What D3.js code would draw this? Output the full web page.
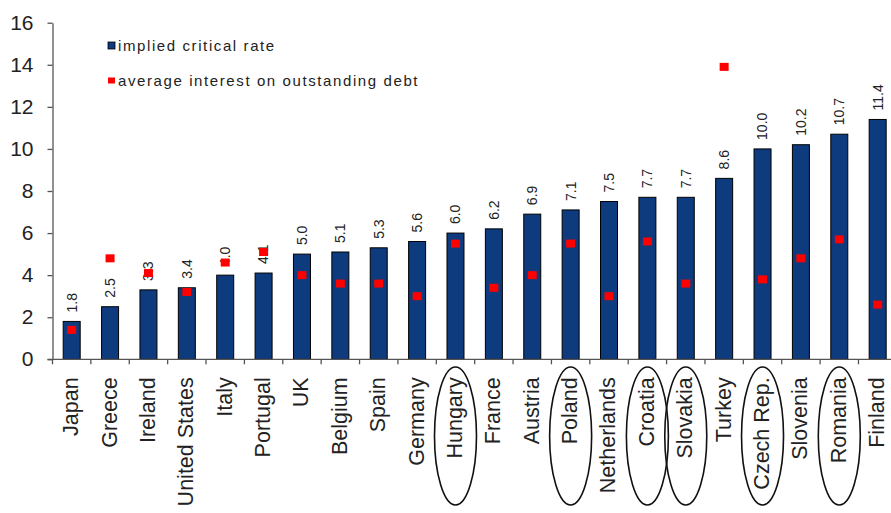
<!DOCTYPE html>
<html>
<head>
<meta charset="utf-8">
<script src="https://cdn.jsdelivr.net/npm/d3@7"></script>
<style>
  html, body { margin: 0; padding: 0; background: #fff; }
  svg { display: block; font-family: "Liberation Sans", Arial, Helvetica, sans-serif; }
</style>
</head>
<body>
<svg id="chart" width="891" height="513"></svg>
<script>
// Countries, ordered by implied critical rate
const categories = ["Japan", "Greece", "Ireland", "United States", "Italy", "Portugal", "UK",
  "Belgium", "Spain", "Germany", "Hungary", "France", "Austria", "Poland", "Netherlands",
  "Croatia", "Slovakia", "Turkey", "Czech Rep.", "Slovenia", "Romania", "Finland"];

// Implied critical rate (%)
const criticalRate = [1.8, 2.5, 3.3, 3.4, 4.0, 4.1, 5.0, 5.1, 5.3, 5.6, 6.0, 6.2, 6.9, 7.1,
  7.5, 7.7, 7.7, 8.6, 10.0, 10.2, 10.7, 11.4];

// Average interest on outstanding debt (%)
const avgInterest = [1.4, 4.8, 4.1, 3.2, 4.6, 5.1, 4.0, 3.6, 3.6, 3.0, 5.5, 3.4, 4.0, 5.5,
  3.0, 5.6, 3.6, 13.9, 3.8, 4.8, 5.7, 2.6];

// Countries singled out with an ellipse round their label
const circled = ["Hungary", "Poland", "Croatia", "Slovakia", "Czech Rep.", "Romania"];

const yTicks = [0, 2, 4, 6, 8, 10, 12, 14, 16];

const seriesNames = ["implied critical rate", "average interest on outstanding debt"];
const barColor = "#0e3a7e";
const markColor = "#ff0000";
const inkColor = "#222";

const svg = d3.select("#chart");

const plotLeft = 52.5, plotTop = 22.7, plotBottom = 359.3, step = 38.38;

const y = d3.scaleLinear().domain([0, 16]).range([plotBottom, plotTop]);
const x = d3.scaleBand()
  .domain(categories)
  .range([plotLeft, plotLeft + step * categories.length])
  .padding(0);

const barW = 17;
const cx = d => x(d) + x.bandwidth() / 2;

const rows = categories.map((c, i) => ({ name: c, rate: criticalRate[i], interest: avgInterest[i] }));

// Y axis
const yAxis = svg.append("g")
  .attr("transform", `translate(${plotLeft},0)`)
  .call(d3.axisLeft(y).tickValues(yTicks).tickSize(5).tickSizeOuter(0).tickPadding(14)
    .tickFormat(d3.format("d")));
yAxis.select(".domain").attr("stroke", "#555").attr("stroke-width", 1.3);
yAxis.selectAll(".tick line").attr("stroke", "#555").attr("stroke-width", 1.3);
yAxis.selectAll(".tick text")
  .attr("fill", inkColor)
  .style("font-size", "21px")
  .attr("dy", "0.3em");

// Bars
svg.append("g").selectAll("rect")
  .data(rows)
  .join("rect")
  .attr("x", d => cx(d.name) - barW / 2)
  .attr("y", d => y(d.rate))
  .attr("width", barW)
  .attr("height", d => y(0) - y(d.rate))
  .attr("fill", barColor)
  .attr("stroke", "#000")
  .attr("stroke-width", 1);

// X axis baseline with ticks between categories
const xAxisG = svg.append("g");
xAxisG.append("line")
  .attr("x1", plotLeft - 5).attr("x2", x.range()[1])
  .attr("y1", y(0)).attr("y2", y(0))
  .attr("stroke", "#555").attr("stroke-width", 1.3);
xAxisG.selectAll("line.sep")
  .data(d3.range(categories.length + 1))
  .join("line")
  .attr("class", "sep")
  .attr("x1", i => plotLeft + i * x.step()).attr("x2", i => plotLeft + i * x.step())
  .attr("y1", y(0)).attr("y2", y(0) + 5)
  .attr("stroke", "#555").attr("stroke-width", 1.3);

// Value labels above the bars
svg.append("g").selectAll("text")
  .data(rows)
  .join("text")
  .attr("transform", d => `translate(${cx(d.name)},${y(d.rate) - 9}) rotate(-90)`)
  .attr("dy", "0.35em")
  .attr("text-anchor", "start")
  .attr("fill", inkColor)
  .style("font-size", "14px")
  .text(d => d3.format(".1f")(d.rate));

// Category labels
svg.append("g").selectAll("text")
  .data(rows)
  .join("text")
  .attr("transform", d => `translate(${cx(d.name)},${y(0) + 18}) rotate(-90)`)
  .attr("dy", "0.3em")
  .attr("text-anchor", "end")
  .attr("fill", inkColor)
  .style("font-size", "21.5px")
  .text(d => d.name);

// Ellipses round selected labels
svg.append("g").selectAll("ellipse")
  .data(circled)
  .join("ellipse")
  .attr("cx", d => cx(d))
  .attr("cy", 436)
  .attr("rx", 21)
  .attr("ry", 69)
  .attr("fill", "none")
  .attr("stroke", "#111")
  .attr("stroke-width", 1.6);

// Average interest markers
const mW = 9, mH = 8;
svg.append("g").selectAll("rect")
  .data(rows)
  .join("rect")
  .attr("x", d => cx(d.name) - mW / 2)
  .attr("y", d => y(d.interest) - mH / 2)
  .attr("width", mW)
  .attr("height", mH)
  .attr("fill", markColor);

// Legend
const legend = svg.append("g").attr("transform", "translate(108,0)");
const legendItems = [
  { label: seriesNames[0], color: barColor, stroke: "#000", y: 45.5, w: 7, h: 7 },
  { label: seriesNames[1], color: markColor, stroke: "none", y: 80.5, w: 7, h: 6 }
];
legendItems.forEach(it => {
  legend.append("rect")
    .attr("x", 0).attr("y", it.y - it.h / 2)
    .attr("width", it.w).attr("height", it.h)
    .attr("fill", it.color)
    .attr("stroke", it.stroke).attr("stroke-width", 0.8);
  legend.append("text")
    .attr("x", 10).attr("y", it.y)
    .attr("dy", "0.36em")
    .attr("fill", inkColor)
    .style("font-size", "15px")
    .style("letter-spacing", "1.6px")
    .text(it.label);
});
</script>
</body>
</html>
